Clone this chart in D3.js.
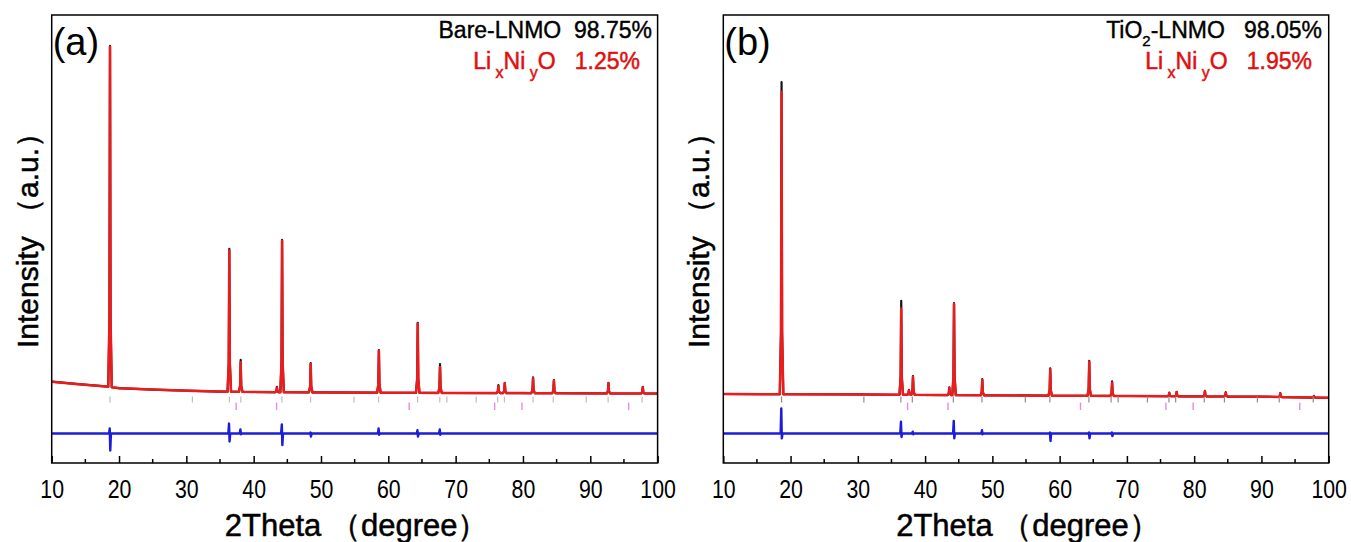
<!DOCTYPE html>
<html>
<head>
<meta charset="utf-8">
<script src="https://cdnjs.cloudflare.com/ajax/libs/d3/7.8.5/d3.min.js"></script>
<style>
  body { margin: 0; background: #fff; }
  text { font-family: "Liberation Sans", Arial, sans-serif; white-space: pre; }
</style>
</head>
<body>
<svg id="chart" width="1351" height="542"></svg>
<script>
// x axis ticks (2Theta, degree)
var xTicks = [10, 20, 30, 40, 50, 60, 70, 80, 90, 100];

// Bragg positions
var braggLNMO = [18.66, 30.9, 36.4, 38.1, 44.2, 48.45, 54.9, 58.55, 64.35, 67.65, 68.7, 73.05, 76.25, 77.25, 81.5, 84.5, 89.4, 92.65, 97.7];
var braggLiNiO = [37.4, 43.4, 63.1, 75.8, 79.85, 95.7];

// (a) Bare-LNMO : background, peaks (obs / calc), difference spikes
var bgXA = [10, 14, 18, 20, 25, 30, 35, 40, 50, 60, 80, 100];
var bgYA = [181.5, 176, 171, 167, 164, 161.5, 159.5, 158.5, 157.5, 156.8, 156, 155];
var peakPosA = [18.66, 36.38, 38.07, 43.45, 44.22, 48.47, 58.6, 64.37, 67.68, 76.35, 77.3, 81.5, 84.6, 92.7, 97.8];
var obsA = [931, 478, 230, 170, 498, 223, 252, 313, 221, 174, 179, 191, 185, 179, 170];
var calcA = [929, 475, 225, 168, 496, 221, 250, 311, 214, 172, 178, 189, 184, 178, 169];
var diffPosA = [18.66, 36.38, 38.07, 44.22, 48.47, 58.6, 64.37, 67.68];
var diffUpA = [11, 22, 9, 20, 2, 11, 7, 9];
var diffDownA = [-38, -18, -2, -26, -7, -3, -7, -3];

// (b) TiO2-LNMO
var bgXB = [10, 30, 50, 70, 90, 100];
var bgYB = [154, 153, 151, 149.5, 148, 145.5];
var peakPosB = [18.66, 36.45, 37.6, 38.2, 43.6, 44.3, 48.5, 58.6, 64.4, 67.8, 76.3, 77.4, 81.6, 84.7, 92.8, 97.8];
var obsB = [850, 362, 163, 194, 169, 357, 187, 211, 228, 182, 157, 159, 161, 158, 156, 150];
var calcB = [828, 345, 162, 192, 168, 355, 185, 209, 226, 179, 156, 158, 160, 157, 155, 149];
var diffPosB = [18.66, 36.45, 38.2, 44.3, 48.5, 58.6, 64.4, 67.8];
var diffUpB = [56, 26, 4, 28, 7, 2, 2, 2];
var diffDownB = [-11, -8, -2, -11, -2, -17, -11, -6];

var panels = [
  { id: "a", left: 51.7, right: 657.6, bgX: bgXA, bgY: bgYA, pos: peakPosA, obs: obsA, calc: calcA,
    dPos: diffPosA, dUp: diffUpA, dDown: diffDownA, name: "Bare-LNMO", pct1: "98.75%", pct2: "1.25%",
    tickGray: "#bdbdbd", r1: 652, r2: 640 },
  { id: "b", left: 723.3, right: 1328.7, bgX: bgXB, bgY: bgYB, pos: peakPosB, obs: obsB, calc: calcB,
    dPos: diffPosB, dUp: diffUpB, dDown: diffDownB, name: "TiO2-LNMO", pct1: "98.05%", pct2: "1.95%",
    tickGray: "#8c8c8c", r1: 1322, r2: 1312 }
];

var plotTop = 15, plotBottom = 463;
var DIFF_OFFSET = 66;
var svg = d3.select("#chart");

panels.forEach(function(p) {
  var x = d3.scaleLinear().domain([10, 100]).range([p.left, p.right]);
  var y = d3.scaleLinear().domain([0, 1000]).range([plotBottom, plotTop]);
  var bg = d3.scaleLinear().domain(p.bgX).range(p.bgY);
  var g = svg.append("g").attr("class", "panel-" + p.id);

  // background points + narrow peak profiles
  function pattern(tops) {
    var pts = p.bgX.map(function(v, i) { return [v, p.bgY[i]]; });
    p.pos.forEach(function(c, i) {
      var w = 0.26, h = tops[i] - bg(c);
      pts.push([c - w, bg(c - w)], [c - 0.08, bg(c) + h * 0.2], [c, tops[i]],
               [c + 0.08, bg(c) + h * 0.2], [c + w, bg(c + w)]);
    });
    return pts.sort(function(a, b) { return a[0] - b[0]; });
  }
  function diffPattern() {
    var pts = [[10, 0], [100, 0]];
    p.dPos.forEach(function(c, i) {
      pts.push([c - 0.14, 0], [c - 0.04, p.dUp[i]], [c + 0.04, p.dDown[i]], [c + 0.14, 0]);
    });
    return pts.sort(function(a, b) { return a[0] - b[0]; });
  }

  var line = d3.line().x(function(d) { return x(d[0]); }).y(function(d) { return y(d[1]); });
  var diffLine = d3.line().x(function(d) { return x(d[0]); }).y(function(d) { return y(d[1] + DIFF_OFFSET); });

  // observed (black) under calculated (red)
  g.append("path").datum(pattern(p.obs)).attr("d", line)
    .attr("fill", "none").attr("stroke", "#151515").attr("stroke-width", 2.2).attr("stroke-linejoin", "round");
  g.append("path").datum(pattern(p.calc)).attr("d", line)
    .attr("fill", "none").attr("stroke", "#ec1c1c").attr("stroke-width", 2.5).attr("stroke-linejoin", "round");

  // Bragg ticks
  g.selectAll("line.bragg1").data(braggLNMO).enter().append("line")
    .attr("class", "bragg1")
    .attr("x1", function(d) { return x(d); }).attr("x2", function(d) { return x(d); })
    .attr("y1", 396.5).attr("y2", 402.5)
    .attr("stroke", p.tickGray).attr("stroke-width", 1.2);
  g.selectAll("line.bragg2").data(braggLiNiO).enter().append("line")
    .attr("class", "bragg2")
    .attr("x1", function(d) { return x(d); }).attr("x2", function(d) { return x(d); })
    .attr("y1", 402.5).attr("y2", 410)
    .attr("stroke", "#e08ee0").attr("stroke-width", 1.4);

  // difference (blue)
  g.append("path").datum(diffPattern()).attr("d", diffLine)
    .attr("fill", "none").attr("stroke", "#1c1cdc").attr("stroke-width", 2.4).attr("stroke-linejoin", "round");

  // frame
  g.append("rect").attr("x", p.left).attr("y", plotTop)
    .attr("width", p.right - p.left).attr("height", plotBottom - plotTop)
    .attr("fill", "none").attr("stroke", "#000").attr("stroke-width", 1.5);

  // x axis, inward ticks
  var minor = d3.range(15, 100, 10);
  g.selectAll("line.minor").data(minor).enter().append("line")
    .attr("x1", function(d) { return x(d); }).attr("x2", function(d) { return x(d); })
    .attr("y1", plotBottom).attr("y2", plotBottom - 4)
    .attr("stroke", "#000").attr("stroke-width", 1.5);
  var axis = d3.axisBottom(x).tickValues(xTicks).tickSizeInner(-7).tickSizeOuter(0).tickPadding(17);
  var ax = g.append("g").attr("transform", "translate(0," + plotBottom + ")").call(axis);
  ax.select(".domain").remove();
  ax.selectAll(".tick line").attr("stroke-width", 1.5);
  ax.selectAll(".tick text")
    .attr("font-size", 26).attr("fill", "#000").attr("transform", "scale(0.82,1)")
    .style("font-family", "'Liberation Sans', Arial, sans-serif");

  var cx = (p.left + p.right) / 2;
  g.append("text").attr("transform", "translate(" + (cx + 2) + ",536)").attr("text-anchor", "middle")
    .attr("font-size", 31).attr("stroke", "#000").attr("stroke-width", 0.5).text("2Theta （degree）");
  g.append("text").attr("transform", "translate(" + (p.left - 14) + ",233) rotate(-90)")
    .attr("text-anchor", "middle").attr("font-size", 30).attr("stroke", "#000").attr("stroke-width", 0.5)
    .text("Intensity （a.u.）");

  // panel letter
  g.append("text").attr("transform", "translate(" + (p.left + 1) + ",55)")
    .attr("font-size", 38).text("(" + p.id + ")");

  // legend
  var t1 = g.append("text").attr("transform", "translate(" + p.r1 + ",38)")
    .attr("text-anchor", "end").attr("font-size", 23).attr("stroke", "#000").attr("stroke-width", 0.4);
  if (p.id === "b") {
    t1.append("tspan").text("TiO");
    t1.append("tspan").attr("dy", 8).attr("font-size", 15).text("2");
    t1.append("tspan").attr("dy", -8).text("-LNMO   " + p.pct1);
  } else {
    t1.text(p.name + "  " + p.pct1);
  }
  var t2 = g.append("text").attr("transform", "translate(" + p.r2 + ",69)")
    .attr("text-anchor", "end").attr("font-size", 23).attr("fill", "#e01010")
    .attr("stroke", "#e01010").attr("stroke-width", 0.5);
  t2.append("tspan").text("Li");
  t2.append("tspan").attr("dy", 9).attr("font-size", 16).text(" x");
  t2.append("tspan").attr("dy", -9).text("Ni");
  t2.append("tspan").attr("dy", 9).attr("font-size", 16).text(" y");
  t2.append("tspan").attr("dy", -9).text("O   " + p.pct2);
});
</script>
</body>
</html>
